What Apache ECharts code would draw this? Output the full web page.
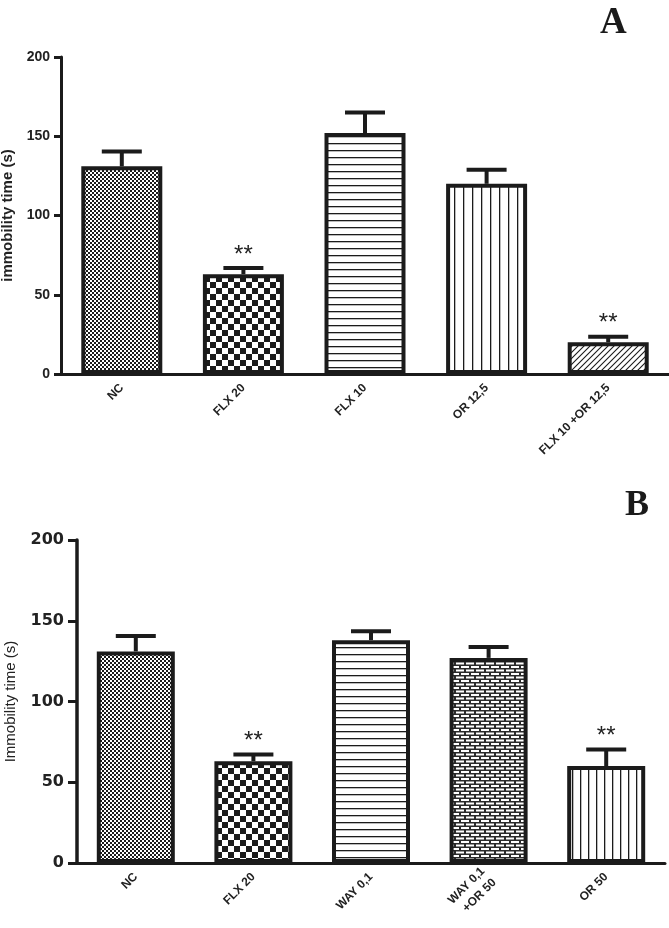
<!DOCTYPE html>
<html>
<head>
<meta charset="utf-8">
<script src="https://cdn.jsdelivr.net/npm/echarts@6/dist/echarts.min.js"></script>
<style>html,body{margin:0;padding:0;background:#fff}#c{width:669px;height:928px}</style>
</head>
<body>
<div id="c"></div>
<script>
// ---- data ----
const catsA = ['NC', 'FLX 20', 'FLX 10', 'OR 12,5', 'FLX 10 +OR 12,5'];
const meanA = [131, 63, 152, 120, 20];
const semA  = [9.3, 3.8, 13, 8.8, 3.5];
const sigA  = ['', '**', '', '', '**'];

const catsB = ['NC', 'FLX 20', 'WAY 0,1', 'WAY 0,1\n+OR 50', 'OR 50'];
const meanB = [131, 63, 138, 127, 60];
const semB  = [9.5, 4.2, 5.5, 6.8, 10.3];
const sigB  = ['', '**', '', '', '**'];

const yTicks = [0, 50, 100, 150, 200];

// ---- patterns ----
const INK = '#1b1b1b';
function mk(w, h, draw) {
  const c = document.createElement('canvas');
  c.width = w; c.height = h;
  const g = c.getContext('2d');
  g.fillStyle = '#fff'; g.fillRect(0, 0, w, h);
  g.fillStyle = INK; g.strokeStyle = INK;
  draw(g, w, h);
  return { image: c, repeat: 'repeat' };
}
const pFineCheck = mk(4, 4, g => { g.fillRect(0,0,2,2); g.fillRect(2,2,2,2); });
const pCoarseCheck = mk(12, 12, g => { g.fillRect(0,0,6,6); g.fillRect(6,6,6,6); });
const pHoriz = mk(8, 7, g => { g.fillRect(0,3,8,1.3); });
const pHorizB = mk(8, 7, g => { g.fillRect(0,3,8,1.3); });
const pVert = mk(9, 8, g => { g.fillRect(4,0,1.3,8); });
const pVertB = mk(8, 8, g => { g.fillRect(4,0,1.3,8); });
const pDiag = mk(6, 6, g => {
  g.lineWidth = 1.1;
  g.beginPath();
  g.moveTo(-1, 7); g.lineTo(7, -1);
  g.moveTo(-7, 7); g.lineTo(1, -1);
  g.moveTo(5, 7); g.lineTo(13, -1);
  g.stroke();
});
const pBrick = mk(10, 7, g => {
  g.fillStyle = '#2a2a2a';
  g.fillRect(0,0,10,7);
  g.fillStyle = '#fff';
  g.fillRect(1,1,8,2);
  g.fillRect(0,4.5,4,2); g.fillRect(6,4.5,4,2);
});
const patsA = [pFineCheck, pCoarseCheck, pHoriz, pVert, pDiag];
const patsB = [pFineCheck, pCoarseCheck, pHorizB, pBrick, pVertB];

function barData(means, pats) {
  return means.map((v, i) => ({ value: v, itemStyle: { color: pats[i] } }));
}
function errData(means, sems, sig) {
  return means.map((v, i) => [i, v, v + sems[i], sig[i]]);
}
function errRender(capHalf) {
  return function (params, api) {
    const i = api.value(0);
    const base = api.coord([i, api.value(1)]);
    const top = api.coord([i, api.value(2)]);
    const s = api.value(3);
    const children = [
      { type: 'line', shape: { x1: base[0], y1: base[1], x2: top[0], y2: top[1] },
        style: { stroke: INK, lineWidth: 4 } },
      { type: 'line', shape: { x1: top[0] - capHalf, y1: top[1], x2: top[0] + capHalf, y2: top[1] },
        style: { stroke: INK, lineWidth: 4 } }
    ];
    if (s) {
      children.push({ type: 'text', x: top[0], y: top[1] - 13,
        style: { text: s, fill: '#222', font: '24px "Liberation Sans", Arial, sans-serif',
          align: 'center', verticalAlign: 'middle' } });
    }
    return { type: 'group', children: children };
  };
}

const axisLbl = { fontFamily: 'Liberation Sans, Arial', fontWeight: 'bold', fontSize: 12, color: '#222' };

const chart = echarts.init(document.getElementById('c'), null, { renderer: 'canvas' });
chart.setOption({
  animation: false,
  backgroundColor: '#fff',
  title: [
    { text: 'A', left: 595, top: 0, textStyle: { fontFamily: 'Liberation Serif', fontWeight: 'bold', fontSize: 37, color: '#1a1a1a' } },
    { text: 'B', left: 620, top: 483, textStyle: { fontFamily: 'Liberation Serif', fontWeight: 'bold', fontSize: 36, color: '#1a1a1a' } }
  ],
  grid: [
    { left: 61, right: 0, top: 57, height: 317, outerBoundsMode: 'none', containLabel: false },
    { left: 77, right: 4, top: 540, height: 323, outerBoundsMode: 'none', containLabel: false }
  ],
  xAxis: [
    { type: 'category', gridIndex: 0, data: catsA,
      axisLine: { lineStyle: { color: INK, width: 3 } },
      axisTick: { alignWithLabel: true, length: 7, lineStyle: { color: INK, width: 3 } },
      axisLabel: Object.assign({ rotate: 45, margin: 12, interval: 0 }, axisLbl) },
    { type: 'category', gridIndex: 1, data: catsB,
      axisLine: { lineStyle: { color: INK, width: 3 } },
      axisTick: { alignWithLabel: true, length: 7, lineStyle: { color: INK, width: 3 } },
      axisLabel: Object.assign({ rotate: 45, margin: 12, interval: 0, lineHeight: 16 }, axisLbl) }
  ],
  yAxis: [
    { type: 'value', gridIndex: 0, min: yTicks[0], max: yTicks[yTicks.length - 1], interval: 50,
      name: 'immobility time (s)', nameLocation: 'middle', nameGap: 43,
      nameTextStyle: { fontFamily: 'Liberation Sans, Arial', fontWeight: 'bold', fontSize: 15, color: '#222' },
      axisLine: { show: true, lineStyle: { color: INK, width: 3 } },
      axisTick: { show: true, length: 7, lineStyle: { color: INK, width: 3 } },
      axisLabel: { fontFamily: 'Liberation Sans, Arial', fontWeight: 'bold', fontSize: 14, color: '#222', margin: 11 },
      splitLine: { show: false } },
    { type: 'value', gridIndex: 1, min: yTicks[0], max: yTicks[yTicks.length - 1], interval: 50,
      name: 'Immobility time (s)', nameLocation: 'middle', nameGap: 59,
      nameTextStyle: { fontFamily: 'Liberation Sans, Arial', fontSize: 15, color: '#222' },
      axisLine: { show: true, lineStyle: { color: INK, width: 3.5 } },
      axisTick: { show: true, length: 9, lineStyle: { color: INK, width: 3 } },
      axisLabel: { fontFamily: 'DejaVu Sans', fontWeight: 'bold', fontSize: 16, color: '#222', margin: 13 },
      splitLine: { show: false } }
  ],
  series: [
    { type: 'bar', xAxisIndex: 0, yAxisIndex: 0, barWidth: 81, data: barData(meanA, patsA),
      itemStyle: { borderColor: INK, borderWidth: 4 }, z: 2 },
    { type: 'custom', xAxisIndex: 0, yAxisIndex: 0, data: errData(meanA, semA, sigA),
      renderItem: errRender(20), z: 1 },
    { type: 'bar', xAxisIndex: 1, yAxisIndex: 1, barWidth: 78, data: barData(meanB, patsB),
      itemStyle: { borderColor: INK, borderWidth: 4 }, z: 2 },
    { type: 'custom', xAxisIndex: 1, yAxisIndex: 1, data: errData(meanB, semB, sigB),
      renderItem: errRender(20), z: 1 }
  ]
});
</script>
</body>
</html>
